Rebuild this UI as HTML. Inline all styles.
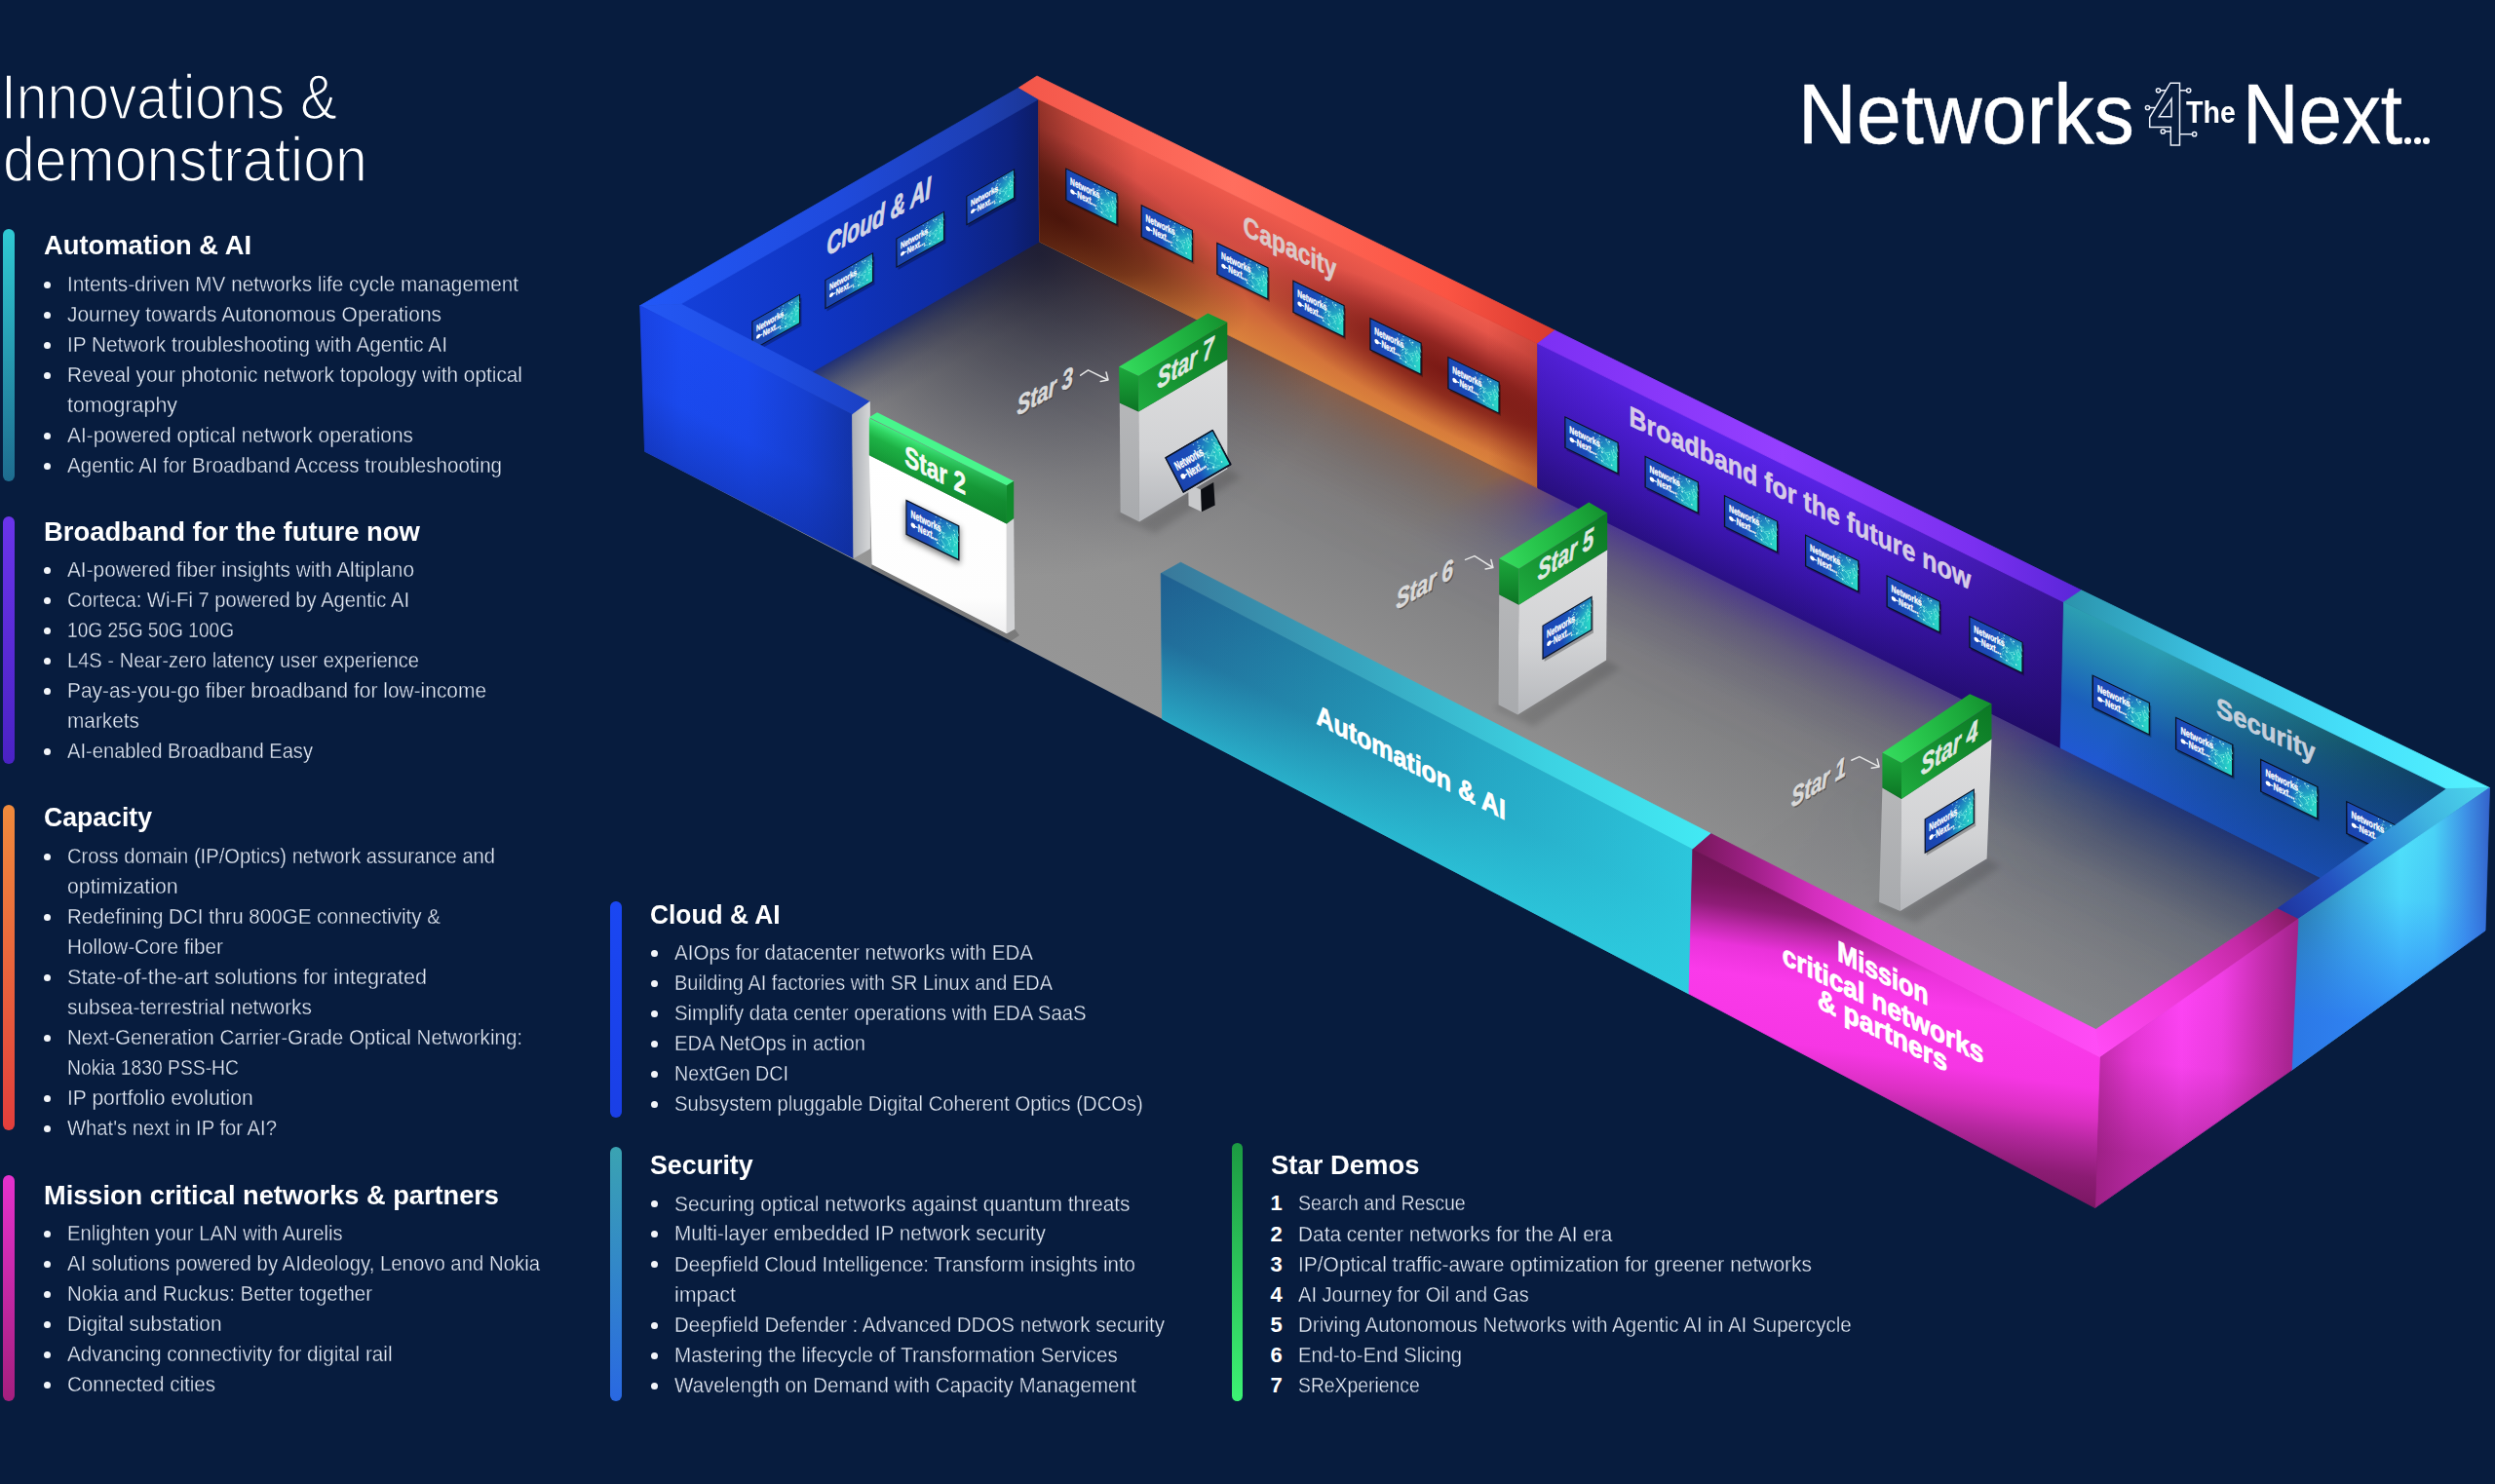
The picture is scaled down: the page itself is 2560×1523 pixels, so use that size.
<!DOCTYPE html>
<html lang="en"><head><meta charset="utf-8"><title>Innovations &amp; demonstration</title>
<style>
html,body{margin:0;padding:0}
body{width:2560px;height:1523px;overflow:hidden;background:#071c3e;position:relative;font-family:"Liberation Sans",sans-serif}
.t,.h,.n,.ttl,.x{position:absolute;white-space:nowrap;line-height:1;transform-origin:0 50%}
.t{font-size:22px;color:#e3e9f3;-webkit-text-stroke:0.35px #071c3e}
.n{font-size:22px;color:#fff;font-weight:bold}
.h{font-size:27.3px;color:#fff;font-weight:bold}
.ttl{font-size:64px;color:#fff;-webkit-text-stroke:1.6px #071c3e}
.b{position:absolute;width:7px;height:7px;border-radius:50%;background:#f2f5fa}
.bar{position:absolute;border-radius:6px}
#dia{position:absolute;left:0;top:0}
</style></head><body>
<svg id="dia" width="2560" height="1523" viewBox="0 0 2560 1523">
<defs>
<clipPath id="fclip"><polygon points="1066.6,248 2520,958 2152,1215 1192.6,738.1 661.6,463.3"/></clipPath>
<filter id="blur6" x="-20%" y="-20%" width="140%" height="140%"><feGaussianBlur stdDeviation="6"/></filter>
<filter id="blur3" x="-20%" y="-20%" width="140%" height="140%"><feGaussianBlur stdDeviation="3"/></filter>
<linearGradient id="g1" gradientUnits="userSpaceOnUse" x1="1400" y1="380" x2="1130" y2="900"><stop offset="0" stop-color="#5c5c61"/><stop offset="0.22" stop-color="#7e7e80"/><stop offset="0.5" stop-color="#929292"/><stop offset="1" stop-color="#9b9b9b"/></linearGradient>
<linearGradient id="g2" gradientUnits="userSpaceOnUse" x1="1700" y1="600" x2="2450" y2="960"><stop offset="0" stop-color="#7a8288" stop-opacity="0"/><stop offset="0.5" stop-color="#7a8088" stop-opacity="0.15"/><stop offset="1" stop-color="#66707c" stop-opacity="0.4"/></linearGradient>
<linearGradient id="g3" gradientUnits="userSpaceOnUse" x1="700" y1="458" x2="732" y2="513.8"><stop offset="0" stop-color="#10257e" stop-opacity="0.9"/><stop offset="0.3" stop-color="#1a2a6a" stop-opacity="0.5"/><stop offset="0.65" stop-color="#20285a" stop-opacity="0.15"/><stop offset="1" stop-color="#20285a" stop-opacity="0"/></linearGradient>
<linearGradient id="g4" gradientUnits="userSpaceOnUse" x1="1066.6" y1="248" x2="1725" y2="1409.9"><stop offset="0" stop-color="#3a1c18" stop-opacity="0.7"/><stop offset="0.1" stop-color="#5a3024" stop-opacity="0.6"/><stop offset="0.2" stop-color="#a85a30" stop-opacity="0.55"/><stop offset="0.33" stop-color="#b05c2c" stop-opacity="0.6"/><stop offset="0.375" stop-color="#3d19b4" stop-opacity="0.6"/><stop offset="0.7" stop-color="#38189e" stop-opacity="0.6"/><stop offset="0.75" stop-color="#1a3c9e" stop-opacity="0.95"/><stop offset="1" stop-color="#1a3c9e" stop-opacity="0.95"/></linearGradient>
<linearGradient id="g5" gradientUnits="userSpaceOnUse" x1="1066.6" y1="248" x2="999.7" y2="384.6"><stop offset="0" stop-color="#fff" stop-opacity="1"/><stop offset="0.1" stop-color="#fff" stop-opacity="0.7"/><stop offset="0.25" stop-color="#fff" stop-opacity="0.36"/><stop offset="0.45" stop-color="#fff" stop-opacity="0.13"/><stop offset="0.7" stop-color="#fff" stop-opacity="0.03"/><stop offset="1" stop-color="#fff" stop-opacity="0"/></linearGradient>
<mask id="fm" maskUnits="userSpaceOnUse" x="0" y="0" width="2560" height="1523"><polygon points="1026.6,223.4 2550.3,979.6 2390.3,1075.6 866.6,319.4" fill="url(#g5)"/></mask>
<linearGradient id="g6" gradientUnits="userSpaceOnUse" x1="1066.6" y1="248" x2="1725" y2="1409.9"><stop offset="0" stop-color="#1c2a5c" stop-opacity="0"/><stop offset="0.66" stop-color="#1c2a5c" stop-opacity="0"/><stop offset="0.8" stop-color="#1c2a5c" stop-opacity="0.62"/><stop offset="1" stop-color="#18264e" stop-opacity="0.7"/></linearGradient>
<linearGradient id="g7" gradientUnits="userSpaceOnUse" x1="1066.6" y1="248" x2="928.6" y2="530"><stop offset="0" stop-color="#fff" stop-opacity="0.9"/><stop offset="0.15" stop-color="#fff" stop-opacity="0.55"/><stop offset="0.35" stop-color="#fff" stop-opacity="0.2"/><stop offset="0.6" stop-color="#fff" stop-opacity="0.05"/><stop offset="1" stop-color="#fff" stop-opacity="0"/></linearGradient>
<mask id="fm2" maskUnits="userSpaceOnUse" x="0" y="0" width="2560" height="1523"><polygon points="1026.6,223.4 2550.3,979.6 2220.3,1172.6 696.6,416.4" fill="url(#g7)"/></mask>
<radialGradient id="g8" gradientUnits="userSpaceOnUse" cx="1068" cy="262" r="330"><stop offset="0" stop-color="#1c1d32" stop-opacity="0.85"/><stop offset="0.35" stop-color="#26273a" stop-opacity="0.5"/><stop offset="0.7" stop-color="#303040" stop-opacity="0.18"/><stop offset="1" stop-color="#303040" stop-opacity="0"/></radialGradient>
<linearGradient id="g9" gradientUnits="userSpaceOnUse" x1="698" y1="0" x2="1066" y2="0"><stop offset="0" stop-color="#1440da"/><stop offset="0.4" stop-color="#0f35c2"/><stop offset="0.72" stop-color="#0e2ca4"/><stop offset="0.92" stop-color="#0d2280"/><stop offset="1" stop-color="#0c1c66"/></linearGradient>
<linearGradient id="g10" gradientUnits="userSpaceOnUse" x1="656" y1="0" x2="1066" y2="0"><stop offset="0" stop-color="#2258f8"/><stop offset="0.5" stop-color="#1f4adc"/><stop offset="0.85" stop-color="#1d3fb4"/><stop offset="1" stop-color="#1b3694"/></linearGradient>
<linearGradient id="g11" gradientUnits="userSpaceOnUse" x1="1065.6" y1="101.8" x2="1007.5" y2="220.4"><stop offset="0" stop-color="#ee5a4c"/><stop offset="0.3" stop-color="#d44c44"/><stop offset="0.6" stop-color="#c8543a"/><stop offset="0.85" stop-color="#d4743a"/><stop offset="1" stop-color="#da823c"/></linearGradient>
<linearGradient id="g12" gradientUnits="userSpaceOnUse" x1="1065" y1="0" x2="1578" y2="0"><stop offset="0" stop-color="#3a0c06" stop-opacity="0.5"/><stop offset="0.08" stop-color="#3a0c06" stop-opacity="0.25"/><stop offset="0.2" stop-color="#3a0c06" stop-opacity="0"/><stop offset="0.9" stop-color="#5a0808" stop-opacity="0"/><stop offset="1" stop-color="#5a0808" stop-opacity="0.25"/></linearGradient>
<radialGradient id="g13" gradientUnits="userSpaceOnUse" cx="0" cy="0" r="1" gradientTransform="matrix(190 93 0 85 1090 226)"><stop offset="0" stop-color="#3c0c06" stop-opacity="0.85"/><stop offset="0.45" stop-color="#3c0c06" stop-opacity="0.6"/><stop offset="0.8" stop-color="#3c0c06" stop-opacity="0.18"/><stop offset="1" stop-color="#3c0c06" stop-opacity="0"/></radialGradient>
<radialGradient id="g14" gradientUnits="userSpaceOnUse" cx="0" cy="0" r="1" gradientTransform="matrix(230 112.6 0 62 1490 385)"><stop offset="0" stop-color="#640a0a" stop-opacity="0.8"/><stop offset="0.4" stop-color="#640a0a" stop-opacity="0.6"/><stop offset="0.75" stop-color="#640a0a" stop-opacity="0.2"/><stop offset="1" stop-color="#640a0a" stop-opacity="0"/></radialGradient>
<linearGradient id="g15" gradientUnits="userSpaceOnUse" x1="1045" y1="0" x2="1595" y2="0"><stop offset="0" stop-color="#f4574a"/><stop offset="0.4" stop-color="#ff6e5e"/><stop offset="0.8" stop-color="#fb5443"/><stop offset="1" stop-color="#d83a30"/></linearGradient>
<linearGradient id="g16" gradientUnits="userSpaceOnUse" x1="1577.7" y1="352.6" x2="1519.1" y2="471.8"><stop offset="0" stop-color="#5a24ea"/><stop offset="0.35" stop-color="#4a1cd0"/><stop offset="0.7" stop-color="#3a15ac"/><stop offset="1" stop-color="#2a1086"/></linearGradient>
<linearGradient id="g17" gradientUnits="userSpaceOnUse" x1="1578" y1="0" x2="2118" y2="0"><stop offset="0" stop-color="#1a0850" stop-opacity="0.15"/><stop offset="0.3" stop-color="#1a0850" stop-opacity="0"/><stop offset="0.6" stop-color="#1a0850" stop-opacity="0.05"/><stop offset="1" stop-color="#160648" stop-opacity="0.55"/></linearGradient>
<linearGradient id="g18" gradientUnits="userSpaceOnUse" x1="1578" y1="0" x2="2136" y2="0"><stop offset="0" stop-color="#7c30f4"/><stop offset="0.45" stop-color="#953fff"/><stop offset="0.8" stop-color="#7a30f0"/><stop offset="1" stop-color="#5a26d8"/></linearGradient>
<linearGradient id="g19" gradientUnits="userSpaceOnUse" x1="2117.6" y1="618" x2="2058.5" y2="739.2"><stop offset="0" stop-color="#2c9fb2"/><stop offset="0.3" stop-color="#2382b4"/><stop offset="0.62" stop-color="#1b5fbc"/><stop offset="1" stop-color="#2058d2"/></linearGradient>
<linearGradient id="g20" gradientUnits="userSpaceOnUse" x1="2230" y1="640" x2="2520" y2="800"><stop offset="0" stop-color="#082c44" stop-opacity="0"/><stop offset="0.4" stop-color="#082c44" stop-opacity="0.38"/><stop offset="0.75" stop-color="#07293e" stop-opacity="0.7"/><stop offset="1" stop-color="#06263a" stop-opacity="0.9"/></linearGradient>
<linearGradient id="g21" gradientUnits="userSpaceOnUse" x1="0" y1="760" x2="0" y2="960"><stop offset="0" stop-color="#1f5ad8" stop-opacity="0"/><stop offset="1" stop-color="#1f5ad8" stop-opacity="0.9"/></linearGradient>
<linearGradient id="g22" gradientUnits="userSpaceOnUse" x1="2118" y1="0" x2="2554" y2="0"><stop offset="0" stop-color="#2b93ac"/><stop offset="0.35" stop-color="#3cc4e4"/><stop offset="0.7" stop-color="#46e2fb"/><stop offset="1" stop-color="#54f2ff"/></linearGradient>
<linearGradient id="scrg" x1="0" y1="0" x2="1" y2="0"><stop offset="0" stop-color="#1a43ae"/><stop offset="0.4" stop-color="#1b4bb8"/><stop offset="0.55" stop-color="#1b70c0"/><stop offset="0.72" stop-color="#20a8c4"/><stop offset="1" stop-color="#2adcc8"/></linearGradient>
<linearGradient id="scrg2" x1="0.45" y1="0" x2="0.8" y2="1"><stop offset="0" stop-color="#1b4bb8" stop-opacity="0.8"/><stop offset="0.6" stop-color="#1b4bb8" stop-opacity="0"/></linearGradient>
<g id="scr"><rect x="-0.7" y="-0.7" width="53.4" height="33.4" fill="#0a1226"/><rect x="0.6" y="0.6" width="50.8" height="30.8" fill="url(#scrg)"/><rect x="0.6" y="0.6" width="50.8" height="30.8" fill="url(#scrg2)"/><path d="M36.8 6.9l-1.3 1.8M47.2 5.4l0.8 2.1M40.7 4.0l2.9 2.9M35.1 17.3l3.8 -4.8M32.6 8.8l-2.9 4.0M31.3 18.2l4.3 -5.4M31.0 25.3l3.6 2.0M41.4 17.8l2.2 5.7M33.8 18.1l-1.7 2.4M32.0 21.5l0.8 2.1M34.3 20.7l4.1 4.2M39.8 27.0l3.1 1.7M46.7 21.2l2.0 -1.4M36.3 15.9l5.0 2.7M36.0 28.5l2.8 -3.6M33.5 11.9l2.9 2.9M50.2 5.0l1.8 4.5M48.4 11.2l-2.2 3.0M40.4 23.7l3.9 -4.9M49.8 15.3l-1.4 1.9M45.4 11.0l2.5 6.5M47.3 10.4l4.5 4.6M37.3 27.5l2.5 1.4M32.5 4.5l2.3 1.3M35.2 13.2l1.7 1.7M39.4 17.3l5.0 -3.4" stroke="#7ff5e6" stroke-width="0.7" opacity="0.75" fill="none"/><g fill="#c9fff6" opacity="0.9"><circle cx="47.9" cy="9.8" r="0.6"/><circle cx="36.3" cy="26.8" r="0.9"/><circle cx="31.5" cy="6.9" r="0.5"/><circle cx="33.4" cy="15.6" r="0.7"/><circle cx="34.0" cy="2.1" r="0.6"/><circle cx="36.5" cy="17.9" r="0.9"/><circle cx="43.9" cy="16.4" r="0.7"/><circle cx="43.6" cy="3.5" r="0.8"/><circle cx="45.9" cy="26.5" r="0.8"/><circle cx="37.0" cy="13.2" r="0.5"/><circle cx="42.6" cy="3.7" r="0.4"/><circle cx="32.8" cy="6.5" r="0.6"/><circle cx="29.2" cy="2.0" r="0.5"/><circle cx="30.3" cy="12.2" r="0.4"/><circle cx="48.1" cy="19.2" r="0.5"/><circle cx="33.8" cy="11.7" r="0.6"/><circle cx="30.8" cy="25.8" r="0.9"/><circle cx="38.7" cy="15.5" r="0.4"/><circle cx="30.4" cy="11.6" r="0.5"/><circle cx="47.1" cy="6.5" r="0.4"/><circle cx="49.9" cy="16.8" r="0.5"/><circle cx="40.5" cy="2.8" r="0.7"/></g><text x="4.2" y="14" font-size="10.2" font-weight="bold" fill="#fff" font-family="Liberation Sans,sans-serif" textLength="30" lengthAdjust="spacingAndGlyphs" stroke="#fff" stroke-width="0.35">Networks</text><circle cx="6.6" cy="20.6" r="2.3" fill="#fff"/><rect x="8.2" y="20" width="3" height="1.3" fill="#fff"/><text x="11.4" y="24" font-size="10.2" font-weight="bold" fill="#fff" font-family="Liberation Sans,sans-serif" textLength="19.5" lengthAdjust="spacingAndGlyphs" stroke="#fff" stroke-width="0.35">Next...</text></g>
<linearGradient id="g23" gradientUnits="userSpaceOnUse" x1="2540" y1="812" x2="2345" y2="940"><stop offset="0" stop-color="#4ad0ea"/><stop offset="0.25" stop-color="#3fb4e0"/><stop offset="0.5" stop-color="#2e86d6"/><stop offset="0.75" stop-color="#2452c0"/><stop offset="1" stop-color="#1f36a0"/></linearGradient>
<linearGradient id="g24" gradientUnits="userSpaceOnUse" x1="2348" y1="938" x2="2152" y2="1072"><stop offset="0" stop-color="#8a1c68"/><stop offset="0.25" stop-color="#c42aa6"/><stop offset="0.6" stop-color="#ee3ad8"/><stop offset="1" stop-color="#ff4af4"/></linearGradient>
<linearGradient id="g25" gradientUnits="userSpaceOnUse" x1="2352" y1="0" x2="2554" y2="0"><stop offset="0" stop-color="#287a92"/><stop offset="0.12" stop-color="#2f8eb0"/><stop offset="0.3" stop-color="#3fb4da"/><stop offset="0.55" stop-color="#50e2fa"/><stop offset="0.72" stop-color="#4ad2f6"/><stop offset="0.88" stop-color="#3e92e6"/><stop offset="1" stop-color="#3464cc"/></linearGradient>
<linearGradient id="g26" gradientUnits="userSpaceOnUse" x1="2460" y1="850" x2="2440" y2="1050"><stop offset="0" stop-color="#2f80ff" stop-opacity="0"/><stop offset="0.35" stop-color="#2f80ff" stop-opacity="0.12"/><stop offset="0.7" stop-color="#2f80fa" stop-opacity="0.55"/><stop offset="1" stop-color="#2c78f4" stop-opacity="0.85"/></linearGradient>
<linearGradient id="g27" gradientUnits="userSpaceOnUse" x1="2152" y1="0" x2="2358" y2="0"><stop offset="0" stop-color="#c22cac"/><stop offset="0.18" stop-color="#ea38da"/><stop offset="0.42" stop-color="#ff44f6"/><stop offset="0.62" stop-color="#f03ee4"/><stop offset="0.82" stop-color="#c62eb0"/><stop offset="1" stop-color="#a2228a"/></linearGradient>
<linearGradient id="g28" gradientUnits="userSpaceOnUse" x1="2260" y1="1000" x2="2240" y2="1190"><stop offset="0" stop-color="#7a1560" stop-opacity="0"/><stop offset="0.5" stop-color="#7a1560" stop-opacity="0.06"/><stop offset="1" stop-color="#7a1560" stop-opacity="0.5"/></linearGradient>
<linearGradient id="g29" gradientUnits="userSpaceOnUse" x1="0" y1="413.5" x2="0" y2="525.8"><stop offset="0" stop-color="#b6b7b9"/><stop offset="1" stop-color="#a9abae"/></linearGradient>
<linearGradient id="g30" gradientUnits="userSpaceOnUse" x1="0" y1="369" x2="0" y2="535.5"><stop offset="0" stop-color="#dededf"/><stop offset="0.55" stop-color="#d2d3d5"/><stop offset="1" stop-color="#b6b8bc"/></linearGradient>
<linearGradient id="g31" gradientUnits="userSpaceOnUse" x1="1148" y1="376.6" x2="1259.3" y2="330.7"><stop offset="0" stop-color="#35dc5e"/><stop offset="0.35" stop-color="#27c44b"/><stop offset="0.75" stop-color="#1ba73a"/><stop offset="1" stop-color="#14902f"/></linearGradient>
<linearGradient id="g32" gradientUnits="userSpaceOnUse" x1="0" y1="376.6" x2="0" y2="422.4"><stop offset="0" stop-color="#1ca83c"/><stop offset="0.5" stop-color="#148f30"/><stop offset="1" stop-color="#0c7424"/></linearGradient>
<linearGradient id="g33" gradientUnits="userSpaceOnUse" x1="1168.2" y1="422.4" x2="1259.3" y2="330.7"><stop offset="0" stop-color="#1fae40"/><stop offset="0.4" stop-color="#169332"/><stop offset="1" stop-color="#0b7824"/></linearGradient>
<linearGradient id="g34" gradientUnits="userSpaceOnUse" x1="0" y1="610.3" x2="0" y2="723.3"><stop offset="0" stop-color="#b6b7b9"/><stop offset="1" stop-color="#a9abae"/></linearGradient>
<linearGradient id="g35" gradientUnits="userSpaceOnUse" x1="0" y1="564.2" x2="0" y2="733.5"><stop offset="0" stop-color="#dededf"/><stop offset="0.55" stop-color="#d2d3d5"/><stop offset="1" stop-color="#b6b8bc"/></linearGradient>
<linearGradient id="g36" gradientUnits="userSpaceOnUse" x1="1538.2" y1="573.3" x2="1649.2" y2="526.4"><stop offset="0" stop-color="#35dc5e"/><stop offset="0.35" stop-color="#27c44b"/><stop offset="0.75" stop-color="#1ba73a"/><stop offset="1" stop-color="#14902f"/></linearGradient>
<linearGradient id="g37" gradientUnits="userSpaceOnUse" x1="0" y1="573.3" x2="0" y2="620.8"><stop offset="0" stop-color="#1ca83c"/><stop offset="0.5" stop-color="#148f30"/><stop offset="1" stop-color="#0c7424"/></linearGradient>
<linearGradient id="g38" gradientUnits="userSpaceOnUse" x1="1558.4" y1="620.8" x2="1649.2" y2="526.4"><stop offset="0" stop-color="#1fae40"/><stop offset="0.4" stop-color="#169332"/><stop offset="1" stop-color="#0b7824"/></linearGradient>
<linearGradient id="g39" gradientUnits="userSpaceOnUse" x1="0" y1="808.5" x2="0" y2="925.7"><stop offset="0" stop-color="#b6b7b9"/><stop offset="1" stop-color="#a9abae"/></linearGradient>
<linearGradient id="g40" gradientUnits="userSpaceOnUse" x1="0" y1="758.6" x2="0" y2="935.1"><stop offset="0" stop-color="#dededf"/><stop offset="0.55" stop-color="#d2d3d5"/><stop offset="1" stop-color="#b6b8bc"/></linearGradient>
<linearGradient id="g41" gradientUnits="userSpaceOnUse" x1="1931.4" y1="772.6" x2="2043.5" y2="722.2"><stop offset="0" stop-color="#35dc5e"/><stop offset="0.35" stop-color="#27c44b"/><stop offset="0.75" stop-color="#1ba73a"/><stop offset="1" stop-color="#14902f"/></linearGradient>
<linearGradient id="g42" gradientUnits="userSpaceOnUse" x1="0" y1="772.6" x2="0" y2="820"><stop offset="0" stop-color="#1ca83c"/><stop offset="0.5" stop-color="#148f30"/><stop offset="1" stop-color="#0c7424"/></linearGradient>
<linearGradient id="g43" gradientUnits="userSpaceOnUse" x1="1951" y1="820" x2="2043.5" y2="722.2"><stop offset="0" stop-color="#1fae40"/><stop offset="0.4" stop-color="#169332"/><stop offset="1" stop-color="#0b7824"/></linearGradient>
<linearGradient id="g44" gradientUnits="userSpaceOnUse" x1="1191" y1="0" x2="1756" y2="0"><stop offset="0" stop-color="#39789a"/><stop offset="0.35" stop-color="#37a4be"/><stop offset="0.7" stop-color="#3cd2e2"/><stop offset="1" stop-color="#42eaf4"/></linearGradient>
<linearGradient id="g45" gradientUnits="userSpaceOnUse" x1="1191" y1="0" x2="1737" y2="0"><stop offset="0" stop-color="#1f5f90"/><stop offset="0.3" stop-color="#2183a8"/><stop offset="0.6" stop-color="#25a4c2"/><stop offset="1" stop-color="#2cc6dc"/></linearGradient>
<linearGradient id="g46" gradientUnits="userSpaceOnUse" x1="1191.2" y1="588.5" x2="1130.3" y2="705.9"><stop offset="0" stop-color="#2ed0e2" stop-opacity="0"/><stop offset="0.45" stop-color="#2ed0e2" stop-opacity="0.12"/><stop offset="1" stop-color="#2ed0e2" stop-opacity="0.62"/></linearGradient>
<linearGradient id="g47" gradientUnits="userSpaceOnUse" x1="1560" y1="0" x2="1737" y2="0"><stop offset="0" stop-color="#1b86ae" stop-opacity="0"/><stop offset="1" stop-color="#1b86ae" stop-opacity="0.0"/></linearGradient>
<linearGradient id="g48" gradientUnits="userSpaceOnUse" x1="1737" y1="0" x2="2154" y2="0"><stop offset="0" stop-color="#76175a"/><stop offset="0.15" stop-color="#a02088"/><stop offset="0.3" stop-color="#d42fbe"/><stop offset="0.45" stop-color="#ee38dc"/><stop offset="1" stop-color="#ff4cf6"/></linearGradient>
<linearGradient id="g49" gradientUnits="userSpaceOnUse" x1="1736.8" y1="871.8" x2="1692" y2="1171.1"><stop offset="0" stop-color="#6a1352"/><stop offset="0.1" stop-color="#78165e"/><stop offset="0.17" stop-color="#8e1c76"/><stop offset="0.24" stop-color="#c22aae"/><stop offset="0.3" stop-color="#ea32da"/><stop offset="0.4" stop-color="#fa3aea"/><stop offset="0.6" stop-color="#f636e4"/><stop offset="0.7" stop-color="#dc30c4"/><stop offset="0.8" stop-color="#b0269a"/><stop offset="0.9" stop-color="#8c1c74"/><stop offset="1" stop-color="#7a1762"/></linearGradient>
<linearGradient id="g50" gradientUnits="userSpaceOnUse" x1="1733" y1="0" x2="2154" y2="0"><stop offset="0" stop-color="#ff40f0" stop-opacity="0.0"/><stop offset="0.5" stop-color="#ff40f0" stop-opacity="0.0"/><stop offset="1" stop-color="#c02aa8" stop-opacity="0.0"/></linearGradient>
<linearGradient id="g51" gradientUnits="userSpaceOnUse" x1="656" y1="0" x2="892" y2="0"><stop offset="0" stop-color="#2458f4"/><stop offset="0.6" stop-color="#1f4de2"/><stop offset="1" stop-color="#1b40c2"/></linearGradient>
<linearGradient id="g52" gradientUnits="userSpaceOnUse" x1="656" y1="0" x2="876" y2="0"><stop offset="0" stop-color="#1943e2"/><stop offset="0.2" stop-color="#1b4bf2"/><stop offset="0.5" stop-color="#1a49ee"/><stop offset="0.78" stop-color="#163fd0"/><stop offset="1" stop-color="#1233a8"/></linearGradient>
<linearGradient id="g53" gradientUnits="userSpaceOnUse" x1="656.7" y1="313.7" x2="596.5" y2="430.8"><stop offset="0" stop-color="#0c2890" stop-opacity="0"/><stop offset="0.55" stop-color="#0c2890" stop-opacity="0.05"/><stop offset="1" stop-color="#0c2890" stop-opacity="0.42"/></linearGradient>
<linearGradient id="g54" gradientUnits="userSpaceOnUse" x1="874" y1="0" x2="893" y2="0"><stop offset="0" stop-color="#aaaeb3"/><stop offset="1" stop-color="#d6d7d9"/></linearGradient>
<linearGradient id="g55" gradientUnits="userSpaceOnUse" x1="0" y1="470" x2="0" y2="650"><stop offset="0" stop-color="#ffffff"/><stop offset="0.8" stop-color="#fdfdfd"/><stop offset="1" stop-color="#f0f0f1"/></linearGradient>
<linearGradient id="g56" gradientUnits="userSpaceOnUse" x1="891.8" y1="429.1" x2="876.5" y2="460.2"><stop offset="0" stop-color="#44f284"/><stop offset="0.2" stop-color="#30d462"/><stop offset="0.45" stop-color="#1eb346"/><stop offset="1" stop-color="#149736"/></linearGradient>
<linearGradient id="g57" gradientUnits="userSpaceOnUse" x1="892" y1="0" x2="1033" y2="0"><stop offset="0" stop-color="#0a7423" stop-opacity="0"/><stop offset="0.35" stop-color="#0a7423" stop-opacity="0.08"/><stop offset="1" stop-color="#0a7423" stop-opacity="0.62"/></linearGradient>
</defs>
<polygon points="1066.6,248 2520,958 2152,1215 1192.6,738.1 661.6,463.3" fill="url(#g1)"/>
<g clip-path="url(#fclip)">
<polygon points="1066.6,248 2520,958 2152,1215 1192.6,738.1 661.6,463.3" fill="url(#g2)"/>
<polygon points="630.6,492.8 1136,203.2 1206,242.2 700.6,531.8" fill="url(#g3)"/>
<polygon points="1026.6,223.4 2550.3,979.6 2390.3,1075.6 866.6,319.4" fill="url(#g4)" mask="url(#fm)"/>
<polygon points="1026.6,223.4 2550.3,979.6 2220.3,1172.6 696.6,416.4" fill="url(#g6)" mask="url(#fm2)"/>
<polygon points="1066.6,248 2520,958 2152,1215 1192.6,738.1 661.6,463.3" fill="url(#g8)"/>
</g>
<polygon points="698.5,312 1065.6,101.8 1066.6,248 698.5,459" fill="url(#g9)" stroke="url(#g9)" stroke-width="0.8" stroke-linejoin="round"/>
<polygon points="656.7,313.7 1045.4,89.9 1065.6,101.8 698.5,312" fill="url(#g10)" stroke="url(#g10)" stroke-width="0.8" stroke-linejoin="round"/>
<polygon points="1065.6,101.8 1577.7,352.6 1577.7,500.8 1066.6,248" fill="url(#g11)" stroke="url(#g11)" stroke-width="0.8" stroke-linejoin="round"/>
<polygon points="1065.6,101.8 1577.7,352.6 1577.7,500.8 1066.6,248" fill="url(#g12)" stroke="url(#g12)" stroke-width="0.8" stroke-linejoin="round"/>
<polygon points="1065.6,101.8 1577.7,352.6 1577.7,500.8 1066.6,248" fill="url(#g13)"/>
<polygon points="1065.6,101.8 1577.7,352.6 1577.7,500.8 1066.6,248" fill="url(#g14)"/>
<polygon points="1064,78 1595.3,339.1 1577.7,352.6 1065.6,101.8 1045.4,89.9" fill="url(#g15)" stroke="url(#g15)" stroke-width="0.8" stroke-linejoin="round"/>
<polygon points="1577.7,352.6 2117.6,618 2114.1,767.5 1577.7,500.8" fill="url(#g16)" stroke="url(#g16)" stroke-width="0.8" stroke-linejoin="round"/>
<polygon points="1577.7,352.6 2117.6,618 2114.1,767.5 1577.7,500.8" fill="url(#g17)" stroke="url(#g17)" stroke-width="0.8" stroke-linejoin="round"/>
<polygon points="1595.3,339.1 2135.7,605.8 2117.6,618 1577.7,352.6" fill="url(#g18)" stroke="url(#g18)" stroke-width="0.8" stroke-linejoin="round"/>
<polygon points="2117.6,618 2510.3,809.6 2510.3,965 2114.1,767.5" fill="url(#g19)" stroke="url(#g19)" stroke-width="0.8" stroke-linejoin="round"/>
<polygon points="2117.6,618 2510.3,809.6 2510.3,965 2114.1,767.5" fill="url(#g20)" stroke="url(#g20)" stroke-width="0.8" stroke-linejoin="round"/>
<polygon points="2117.6,618 2510.3,809.6 2510.3,965 2114.1,767.5" fill="url(#g21)" stroke="url(#g21)" stroke-width="0.8" stroke-linejoin="round"/>
<polygon points="2135.7,605.8 2554.5,808.5 2510.3,809.6 2117.6,618" fill="url(#g22)" stroke="url(#g22)" stroke-width="0.8" stroke-linejoin="round"/>
<polygon points="773.5,331.6 822.5,305.5 822.5,334.5 773.5,362" fill="#000" opacity="0.28"/>
<use href="#scr" transform="matrix(0.9327,-0.5288,0,0.9062,772,330)"/>
<polygon points="848.5,289.1 897.5,263 897.5,292 848.5,319.5" fill="#000" opacity="0.28"/>
<use href="#scr" transform="matrix(0.9327,-0.5288,0,0.9062,847,287.5)"/>
<polygon points="921.5,246.6 970.5,220.5 970.5,249.5 921.5,277" fill="#000" opacity="0.28"/>
<use href="#scr" transform="matrix(0.9327,-0.5288,0,0.9062,920,245)"/>
<polygon points="993.5,203.1 1042.5,177 1042.5,206 993.5,233.5" fill="#000" opacity="0.28"/>
<use href="#scr" transform="matrix(0.9327,-0.5288,0,0.9062,992,201.5)"/>
<polygon points="1095.4,176.4 1147.9,201.6 1147.9,233.6 1095.4,208.2" fill="#000" opacity="0.28"/>
<use href="#scr" transform="matrix(1.0000,0.4880,0,1.0000,1093.9,173.2)"/>
<polygon points="1172.8,214.1 1225.3,239.3 1225.3,271.3 1172.8,245.9" fill="#000" opacity="0.28"/>
<use href="#scr" transform="matrix(1.0000,0.4880,0,1.0000,1171.3,210.9)"/>
<polygon points="1250.4,252.7 1302.9,277.9 1302.9,309.9 1250.4,284.5" fill="#000" opacity="0.28"/>
<use href="#scr" transform="matrix(1.0000,0.4880,0,1.0000,1248.9,249.5)"/>
<polygon points="1328.5,291.5 1381,316.7 1381,348.7 1328.5,323.3" fill="#000" opacity="0.28"/>
<use href="#scr" transform="matrix(1.0000,0.4880,0,1.0000,1327,288.3)"/>
<polygon points="1407.5,330 1460,355.2 1460,387.2 1407.5,361.8" fill="#000" opacity="0.28"/>
<use href="#scr" transform="matrix(1.0000,0.4880,0,1.0000,1406,326.8)"/>
<polygon points="1487.5,369.9 1540,395.1 1540,427.1 1487.5,401.7" fill="#000" opacity="0.28"/>
<use href="#scr" transform="matrix(1.0000,0.4880,0,1.0000,1486,366.7)"/>
<polygon points="1607.5,431.2 1662,457.4 1662,488.9 1607.5,462.5" fill="#000" opacity="0.28"/>
<use href="#scr" transform="matrix(1.0385,0.5068,0,0.9844,1606,428)"/>
<polygon points="1689.7,471.7 1744.2,497.9 1744.2,529.4 1689.7,503" fill="#000" opacity="0.28"/>
<use href="#scr" transform="matrix(1.0385,0.5068,0,0.9844,1688.2,468.5)"/>
<polygon points="1771.1,512.1 1825.6,538.3 1825.6,569.8 1771.1,543.4" fill="#000" opacity="0.28"/>
<use href="#scr" transform="matrix(1.0385,0.5068,0,0.9844,1769.6,508.9)"/>
<polygon points="1854.2,552.5 1908.7,578.7 1908.7,610.2 1854.2,583.8" fill="#000" opacity="0.28"/>
<use href="#scr" transform="matrix(1.0385,0.5068,0,0.9844,1852.7,549.3)"/>
<polygon points="1937.7,594.3 1992.2,620.5 1992.2,652 1937.7,625.6" fill="#000" opacity="0.28"/>
<use href="#scr" transform="matrix(1.0385,0.5068,0,0.9844,1936.2,591.1)"/>
<polygon points="2022.5,636.1 2077,662.3 2077,693.8 2022.5,667.4" fill="#000" opacity="0.28"/>
<use href="#scr" transform="matrix(1.0385,0.5068,0,0.9844,2021,632.9)"/>
<polygon points="2148.8,696.6 2207.3,724.4 2207.3,756.9 2148.8,728.9" fill="#000" opacity="0.28"/>
<use href="#scr" transform="matrix(1.1154,0.5376,0,1.0156,2147.3,693.4)"/>
<polygon points="2234.2,739.7 2292.7,767.5 2292.7,800 2234.2,772" fill="#000" opacity="0.28"/>
<use href="#scr" transform="matrix(1.1154,0.5376,0,1.0156,2232.7,736.5)"/>
<polygon points="2321.3,782.9 2379.8,810.7 2379.8,843.2 2321.3,815.2" fill="#000" opacity="0.28"/>
<use href="#scr" transform="matrix(1.1154,0.5376,0,1.0156,2319.8,779.7)"/>
<polygon points="2409.4,826 2467.9,853.8 2467.9,886.3 2409.4,858.3" fill="#000" opacity="0.28"/>
<use href="#scr" transform="matrix(1.1154,0.5376,0,1.0156,2407.9,822.8)"/>
<text transform="matrix(0.6804,-0.3864,0,1,848.2,263)" font-size="31" font-weight="bold" font-style="italic" fill="#d2d5e8" stroke="#d2d5e8" stroke-width="0.9">Cloud &amp; AI</text>
<text transform="matrix(0.7908,0.3780,0,1,1275.6,240.8)" font-size="29" font-weight="bold" fill="#dcc8c8" stroke="#dcc8c8" stroke-width="0.6">Capacity</text>
<text transform="matrix(0.8602,0.4159,0,1,1671.6,436.2)" font-size="29" font-weight="bold" fill="#d6cbe8" stroke="#d6cbe8" stroke-width="0.6">Broadband for the future now</text>
<text transform="matrix(0.9195,0.4321,0,1,2274,734.5)" font-size="28" font-weight="bold" fill="#c4cfdc" stroke="#c4cfdc" stroke-width="0.6">Security</text>
<polygon points="2510.3,809.6 2554.5,808.5 2358,943.3 2336.5,932.6" fill="url(#g23)" stroke="url(#g23)" stroke-width="0.8" stroke-linejoin="round"/>
<polygon points="2336.5,932.6 2358,943.3 2154.4,1085.5 2150.5,1056.5" fill="url(#g24)" stroke="url(#g24)" stroke-width="0.8" stroke-linejoin="round"/>
<polygon points="2554.5,808.5 2550,955 2351.3,1098.3 2358,943.3" fill="url(#g25)" stroke="url(#g25)" stroke-width="0.8" stroke-linejoin="round"/>
<polygon points="2554.5,808.5 2550,955 2351.3,1098.3 2358,943.3" fill="url(#g26)" stroke="url(#g26)" stroke-width="0.8" stroke-linejoin="round"/>
<polygon points="2358,943.3 2351.3,1098.3 2149.5,1239.5 2154.4,1085.5" fill="url(#g27)" stroke="url(#g27)" stroke-width="0.8" stroke-linejoin="round"/>
<polygon points="2358,943.3 2351.3,1098.3 2149.5,1239.5 2154.4,1085.5" fill="url(#g28)" stroke="url(#g28)" stroke-width="0.8" stroke-linejoin="round"/>
<polygon points="1149.6,525.8 1169,535.5 1259.3,481.3 1273.3,489.3 1185,547.5 1145.6,529.8" fill="#000" opacity="0.13" filter="url(#blur3)"/>
<polygon points="1148.8,413.5 1168.2,422.4 1169,535.5 1149.6,525.8" fill="url(#g29)"/>
<polygon points="1168.2,422.4 1259.3,369 1259.3,481.3 1169,535.5" fill="url(#g30)"/>
<polygon points="1148,376.6 1239.4,321.6 1259.3,330.7 1168.2,386" fill="url(#g31)"/>
<polygon points="1148,376.6 1168.2,386 1168.2,422.4 1148.8,413.5" fill="url(#g32)"/>
<polygon points="1168.2,386 1259.3,330.7 1259.3,369 1168.2,422.4" fill="url(#g33)"/>
<text transform="matrix(0.7196,-0.4318,0,1,1187.6,399.7)" font-size="29" font-weight="bold" font-style="italic" fill="#dfe9e0" stroke="#dfe9e0" stroke-width="0.6">Star 7</text>
<polygon points="1219.2,497 1232.1,502.5 1232.9,525.2 1219.6,519" fill="#c9cacc"/>
<polygon points="1232.1,502.5 1245.2,495 1246.7,518.4 1232.9,525.2" fill="#0b0d12"/>
<polygon points="1196.2,470 1244.2,441.8 1262.8,476.5 1214.3,504.8" fill="#070b18" stroke="#070b18" stroke-width="1.6" stroke-linejoin="round"/>
<use href="#scr" transform="matrix(0.9231,-0.5423,0.5656,1.0875,1196.2,470)"/>
<polygon points="1537.6,723.3 1557.3,733.5 1648.1,677.5 1662.1,685.5 1573.3,745.5 1533.6,727.3" fill="#000" opacity="0.13" filter="url(#blur3)"/>
<polygon points="1538.2,610.3 1558.4,620.8 1557.3,733.5 1537.6,723.3" fill="url(#g34)"/>
<polygon points="1558.4,620.8 1649.2,564.2 1648.1,677.5 1557.3,733.5" fill="url(#g35)"/>
<polygon points="1538.2,573.3 1630.3,515.6 1649.2,526.4 1558.4,583.7" fill="url(#g36)"/>
<polygon points="1538.2,573.3 1558.4,583.7 1558.4,620.8 1538.2,610.3" fill="url(#g37)"/>
<polygon points="1558.4,583.7 1649.2,526.4 1649.2,564.2 1558.4,620.8" fill="url(#g38)"/>
<text transform="matrix(0.7134,-0.4473,0,1,1577.7,596.8)" font-size="29" font-weight="bold" font-style="italic" fill="#dfe9e0" stroke="#dfe9e0" stroke-width="0.6">Star 5</text>
<polygon points="1584.6,643.9 1635,615.7 1635,649.4 1584.6,679" fill="#000" opacity="0.28"/>
<use href="#scr" transform="matrix(0.9596,-0.5691,0,1.0531,1583.1,642.3)"/>
<polygon points="1928.1,925.7 1949.7,935.1 2038.6,881.2 2052.6,889.2 1965.7,947.1 1924.1,929.7" fill="#000" opacity="0.13" filter="url(#blur3)"/>
<polygon points="1931.4,808.5 1951,820 1949.7,935.1 1928.1,925.7" fill="url(#g39)"/>
<polygon points="1951,820 2043.5,758.6 2038.6,881.2 1949.7,935.1" fill="url(#g40)"/>
<polygon points="1931.4,772.6 2021.1,712.2 2043.5,722.2 1951,782.9" fill="url(#g41)"/>
<polygon points="1931.4,772.6 1951,782.9 1951,820 1931.4,808.5" fill="url(#g42)"/>
<polygon points="1951,782.9 2043.5,722.2 2043.5,758.6 1951,820" fill="url(#g43)"/>
<text transform="matrix(0.7258,-0.4761,0,1,1971,796.5)" font-size="29" font-weight="bold" font-style="italic" fill="#dfe9e0" stroke="#dfe9e0" stroke-width="0.6">Star 4</text>
<polygon points="1976.8,842.4 2027.2,813.4 2027.2,847.7 1976.8,878.1" fill="#000" opacity="0.28"/>
<use href="#scr" transform="matrix(0.9596,-0.5844,0,1.0719,1975.3,840.8)"/>
<text transform="matrix(0.7389,-0.4108,0,1,1044.7,428.6)" font-size="28" font-weight="bold" font-style="italic" fill="#3a3a3c" opacity="0.55">Star 3</text>
<text transform="matrix(0.7389,-0.4108,0,1,1043.5,427)" font-size="28" font-weight="bold" font-style="italic" fill="#dadada" stroke="#dadada" stroke-width="0.6">Star 3</text>
<path d="M1108.7 385.2L1116.5 379.8L1137 390M1129.2 391.4L1137 390L1135 382" fill="none" stroke="#e6e6e6" stroke-width="1.5" stroke-linecap="round" stroke-linejoin="round"/>
<text transform="matrix(0.7517,-0.4285,0,1,1433.7,627.6)" font-size="28" font-weight="bold" font-style="italic" fill="#3a3a3c" opacity="0.55">Star 6</text>
<text transform="matrix(0.7517,-0.4285,0,1,1432.5,626)" font-size="28" font-weight="bold" font-style="italic" fill="#dadada" stroke="#dadada" stroke-width="0.6">Star 6</text>
<path d="M1503.6 574.4L1513 570.6L1531.9 582.5M1524.1 583.9L1531.9 582.5L1529.9 574.5" fill="none" stroke="#e6e6e6" stroke-width="1.5" stroke-linecap="round" stroke-linejoin="round"/>
<text transform="matrix(0.7196,-0.4318,0,1,1839.2,830.8)" font-size="28" font-weight="bold" font-style="italic" fill="#3a3a3c" opacity="0.55">Star 1</text>
<text transform="matrix(0.7196,-0.4318,0,1,1838,829.2)" font-size="28" font-weight="bold" font-style="italic" fill="#dadada" stroke="#dadada" stroke-width="0.6">Star 1</text>
<path d="M1899.8 780.2L1907.9 776.6L1928.1 786.9M1920.3 788.3L1928.1 786.9L1926.1 778.9" fill="none" stroke="#e6e6e6" stroke-width="1.5" stroke-linecap="round" stroke-linejoin="round"/>
<polygon points="1191.2,588.5 1211.4,577.2 1755.6,855.6 1736.8,871.8" fill="url(#g44)" stroke="url(#g44)" stroke-width="0.8" stroke-linejoin="round"/>
<polygon points="1191.2,588.5 1736.8,871.8 1733,1020 1192.6,738.1" fill="url(#g45)" stroke="url(#g45)" stroke-width="0.8" stroke-linejoin="round"/>
<polygon points="1191.2,588.5 1736.8,871.8 1733,1020 1192.6,738.1" fill="url(#g46)" stroke="url(#g46)" stroke-width="0.8" stroke-linejoin="round"/>
<polygon points="1191.2,588.5 1736.8,871.8 1733,1020 1192.6,738.1" fill="url(#g47)"/>
<polygon points="1736.8,871.8 1755.6,855.6 2150.5,1056.5 2154.4,1085.5" fill="url(#g48)" stroke="url(#g48)" stroke-width="0.8" stroke-linejoin="round"/>
<polygon points="1736.8,871.8 2154.4,1085.5 2149.5,1239.5 1733,1020" fill="url(#g49)" stroke="url(#g49)" stroke-width="0.8" stroke-linejoin="round"/>
<polygon points="1736.8,871.8 2154.4,1085.5 2149.5,1239.5 1733,1020" fill="url(#g50)"/>
<polygon points="656.7,313.7 698.5,312 892.4,412.3 874.5,425.6" fill="url(#g51)" stroke="url(#g51)" stroke-width="0.8" stroke-linejoin="round"/>
<polygon points="656.7,313.7 874.5,425.6 875.8,572.7 661.6,463.3" fill="url(#g52)" stroke="url(#g52)" stroke-width="0.8" stroke-linejoin="round"/>
<polygon points="656.7,313.7 874.5,425.6 875.8,572.7 661.6,463.3" fill="url(#g53)" stroke="url(#g53)" stroke-width="0.8" stroke-linejoin="round"/>
<polygon points="874.5,425.6 892.4,412.3 892.6,563 875.8,572.7" fill="url(#g54)" stroke="url(#g54)" stroke-width="0.8" stroke-linejoin="round"/>
<polygon points="894.6,579.3 1032.9,650.2 1041.1,645.7 1046,652 1034,660 893,586" fill="#000" opacity="0.18"/>
<polygon points="891.8,467.3 1032.9,537.4 1032.9,650.2 894.6,579.3" fill="url(#g55)"/>
<polygon points="1032.9,537.4 1040.2,532 1041.1,645.7 1032.9,650.2" fill="#d2d3d5"/>
<polygon points="891.8,428.2 900,423.3 1040.2,493.7 1032.9,498.3" fill="#48f68c"/>
<polygon points="891.8,429.1 1032.9,498.3 1032.9,537.4 891.8,467.3" fill="url(#g56)"/>
<polygon points="891.8,429.1 1032.9,498.3 1032.9,537.4 891.8,467.3" fill="url(#g57)"/>
<polygon points="1032.9,498.3 1040.2,493.7 1040.2,532 1032.9,537.4" fill="#0f8a2c"/>
<polygon points="929,515 985,542 985,579 929,552" fill="#000" opacity="0.5" filter="url(#blur3)"/>
<use href="#scr" transform="matrix(1.0308,0.5051,0,1.0813,930.1,513.7)"/>
<text transform="matrix(0.7532,0.3691,0,1,928.2,477.3)" font-size="30" font-weight="bold" fill="#f4fbf5" stroke="#f4fbf5" stroke-width="0.6">Star 2</text>
<text transform="matrix(0.8728,0.4460,0,1,1350.5,742.6)" font-size="28.6" font-weight="bold" fill="#ffffff" stroke="#ffffff" stroke-width="0.8">Automation &amp; AI</text>
<text transform="matrix(0.8467,0.4234,0,1,1885.3,985.6)" font-size="29.6" font-weight="bold" fill="#ffffff" stroke="#ffffff" stroke-width="0.9">Mission</text>
<text transform="matrix(0.8844,0.4422,0,1,1828.8,988.8)" font-size="29.6" font-weight="bold" fill="#ffffff" stroke="#ffffff" stroke-width="0.9">critical networks</text>
<text transform="matrix(0.8984,0.4492,0,1,1865,1034)" font-size="29.6" font-weight="bold" fill="#ffffff" stroke="#ffffff" stroke-width="0.9">&amp; partners</text>
</svg>
<div class="ttl" style="left:0.8px;top:68.0px;transform:scaleX(0.8894)">Innovations &amp;</div>
<div class="ttl" style="left:2.6px;top:132.1px;transform:scaleX(0.9216)">demonstration</div>
<div class="bar" style="left:3.3px;top:235px;width:11.4px;height:259px;background:linear-gradient(180deg,#2fc9d3,#1e6c8f)"></div>
<div class="h" style="left:45px;top:237.9px;transform:scaleX(1.0009)">Automation &amp; AI</div>
<i class="b" style="left:44.9px;top:288.8px"></i>
<div class="t" style="left:69.4px;top:281.4px;transform:scaleX(0.9419)">Intents-driven MV networks life cycle management</div>
<i class="b" style="left:44.9px;top:319.8px"></i>
<div class="t" style="left:69.4px;top:312.4px;transform:scaleX(0.9515)">Journey towards Autonomous Operations</div>
<i class="b" style="left:44.9px;top:350.8px"></i>
<div class="t" style="left:69.4px;top:343.4px;transform:scaleX(0.9444)">IP Network troubleshooting with Agentic AI</div>
<i class="b" style="left:44.9px;top:381.8px"></i>
<div class="t" style="left:69.4px;top:374.4px;transform:scaleX(0.9452)">Reveal your photonic network topology with optical</div>
<div class="t" style="left:69.4px;top:405.4px;transform:scaleX(0.9727)">tomography</div>
<i class="b" style="left:44.9px;top:443.8px"></i>
<div class="t" style="left:69.4px;top:436.4px;transform:scaleX(0.9487)">AI-powered optical network operations</div>
<i class="b" style="left:44.9px;top:474.8px"></i>
<div class="t" style="left:69.4px;top:467.4px;transform:scaleX(0.9351)">Agentic AI for Broadband Access troubleshooting</div>
<div class="bar" style="left:3.3px;top:530px;width:11.4px;height:254px;background:linear-gradient(180deg,#6a34ea,#4a22c4)"></div>
<div class="h" style="left:45px;top:531.9px;transform:scaleX(1.0060)">Broadband for the future now</div>
<i class="b" style="left:44.9px;top:581.8px"></i>
<div class="t" style="left:69.4px;top:574.4px;transform:scaleX(0.9452)">AI-powered fiber insights with Altiplano</div>
<i class="b" style="left:44.9px;top:612.8px"></i>
<div class="t" style="left:69.4px;top:605.4px;transform:scaleX(0.9171)">Corteca: Wi-Fi 7 powered by Agentic AI</div>
<i class="b" style="left:44.9px;top:643.8px"></i>
<div class="t" style="left:69.4px;top:636.4px;transform:scaleX(0.8684)">10G 25G 50G 100G</div>
<i class="b" style="left:44.9px;top:674.8px"></i>
<div class="t" style="left:69.4px;top:667.4px;transform:scaleX(0.9140)">L4S - Near-zero latency user experience</div>
<i class="b" style="left:44.9px;top:705.8px"></i>
<div class="t" style="left:69.4px;top:698.4px;transform:scaleX(0.9504)">Pay-as-you-go fiber broadband for low-income</div>
<div class="t" style="left:69.4px;top:729.4px;transform:scaleX(0.9458)">markets</div>
<i class="b" style="left:44.9px;top:767.8px"></i>
<div class="t" style="left:69.4px;top:760.4px;transform:scaleX(0.9157)">AI-enabled Broadband Easy</div>
<div class="bar" style="left:3.3px;top:826px;width:11.4px;height:334px;background:linear-gradient(180deg,#f08a3c,#e23e3c)"></div>
<div class="h" style="left:45px;top:824.9px;transform:scaleX(0.9754)">Capacity</div>
<i class="b" style="left:44.9px;top:875.8px"></i>
<div class="t" style="left:69.4px;top:868.4px;transform:scaleX(0.9159)">Cross domain (IP/Optics) network assurance and</div>
<div class="t" style="left:69.4px;top:899.4px;transform:scaleX(0.9677)">optimization</div>
<i class="b" style="left:44.9px;top:937.8px"></i>
<div class="t" style="left:69.4px;top:930.4px;transform:scaleX(0.9349)">Redefining DCI thru 800GE connectivity &amp;</div>
<div class="t" style="left:69.4px;top:961.4px;transform:scaleX(0.9415)">Hollow-Core fiber</div>
<i class="b" style="left:44.9px;top:999.8px"></i>
<div class="t" style="left:69.4px;top:992.4px;transform:scaleX(0.9797)">State-of-the-art solutions for integrated</div>
<div class="t" style="left:69.4px;top:1023.4px;transform:scaleX(0.9504)">subsea-terrestrial networks</div>
<i class="b" style="left:44.9px;top:1061.8px"></i>
<div class="t" style="left:69.4px;top:1054.4px;transform:scaleX(0.9339)">Next-Generation Carrier-Grade Optical Networking:</div>
<div class="t" style="left:69.4px;top:1085.4px;transform:scaleX(0.8776)">Nokia 1830 PSS-HC</div>
<i class="b" style="left:44.9px;top:1123.8px"></i>
<div class="t" style="left:69.4px;top:1116.4px;transform:scaleX(0.9581)">IP portfolio evolution</div>
<i class="b" style="left:44.9px;top:1154.8px"></i>
<div class="t" style="left:69.4px;top:1147.4px;transform:scaleX(0.9200)">What's next in IP for AI?</div>
<div class="bar" style="left:3.3px;top:1206px;width:11.4px;height:232px;background:linear-gradient(180deg,#e431cd,#a41f7e)"></div>
<div class="h" style="left:45px;top:1212.6px;transform:scaleX(0.9962)">Mission critical networks &amp; partners</div>
<i class="b" style="left:44.9px;top:1262.8px"></i>
<div class="t" style="left:69.4px;top:1255.4px;transform:scaleX(0.9210)">Enlighten your LAN with Aurelis</div>
<i class="b" style="left:44.9px;top:1293.8px"></i>
<div class="t" style="left:69.4px;top:1286.4px;transform:scaleX(0.9251)">AI solutions powered by AIdeology, Lenovo and Nokia</div>
<i class="b" style="left:44.9px;top:1324.8px"></i>
<div class="t" style="left:69.4px;top:1317.4px;transform:scaleX(0.9307)">Nokia and Ruckus: Better together</div>
<i class="b" style="left:44.9px;top:1355.8px"></i>
<div class="t" style="left:69.4px;top:1348.4px;transform:scaleX(0.9461)">Digital substation</div>
<i class="b" style="left:44.9px;top:1386.8px"></i>
<div class="t" style="left:69.4px;top:1379.4px;transform:scaleX(0.9404)">Advancing connectivity for digital rail</div>
<i class="b" style="left:44.9px;top:1417.8px"></i>
<div class="t" style="left:69.4px;top:1410.4px;transform:scaleX(0.9345)">Connected cities</div>
<div class="bar" style="left:626.4px;top:924.5px;width:11.4px;height:222.5px;background:linear-gradient(180deg,#1a47f2,#1a3fe6)"></div>
<div class="h" style="left:667px;top:924.9px;transform:scaleX(0.9646)">Cloud &amp; AI</div>
<i class="b" style="left:667.5px;top:974.8px"></i>
<div class="t" style="left:691.7px;top:967.4px;transform:scaleX(0.9347)">AIOps for datacenter networks with EDA</div>
<i class="b" style="left:667.5px;top:1005.8px"></i>
<div class="t" style="left:691.7px;top:998.4px;transform:scaleX(0.9065)">Building AI factories with SR Linux and EDA</div>
<i class="b" style="left:667.5px;top:1036.8px"></i>
<div class="t" style="left:691.7px;top:1029.4px;transform:scaleX(0.9240)">Simplify data center operations with EDA SaaS</div>
<i class="b" style="left:667.5px;top:1067.8px"></i>
<div class="t" style="left:691.7px;top:1060.4px;transform:scaleX(0.9212)">EDA NetOps in action</div>
<i class="b" style="left:667.5px;top:1098.8px"></i>
<div class="t" style="left:691.7px;top:1091.4px;transform:scaleX(0.8944)">NextGen DCI</div>
<i class="b" style="left:667.5px;top:1129.8px"></i>
<div class="t" style="left:691.7px;top:1122.4px;transform:scaleX(0.9187)">Subsystem pluggable Digital Coherent Optics (DCOs)</div>
<div class="bar" style="left:626.4px;top:1177px;width:11.4px;height:261px;background:linear-gradient(180deg,#3aa3b2,#2968e2)"></div>
<div class="h" style="left:667px;top:1181.9px;transform:scaleX(0.9811)">Security</div>
<i class="b" style="left:667.5px;top:1232.2px"></i>
<div class="t" style="left:691.7px;top:1224.8px;transform:scaleX(0.9486)">Securing optical networks against quantum threats</div>
<i class="b" style="left:667.5px;top:1262.8px"></i>
<div class="t" style="left:691.7px;top:1255.4px;transform:scaleX(0.9452)">Multi-layer embedded IP network security</div>
<i class="b" style="left:667.5px;top:1294.3px"></i>
<div class="t" style="left:691.7px;top:1286.9px;transform:scaleX(0.9320)">Deepfield Cloud Intelligence: Transform insights into</div>
<div class="t" style="left:691.7px;top:1318.0px;transform:scaleX(0.9723)">impact</div>
<i class="b" style="left:667.5px;top:1356.8px"></i>
<div class="t" style="left:691.7px;top:1349.4px;transform:scaleX(0.9327)">Deepfield Defender : Advanced DDOS network security</div>
<i class="b" style="left:667.5px;top:1387.8px"></i>
<div class="t" style="left:691.7px;top:1380.4px;transform:scaleX(0.9367)">Mastering the lifecycle of Transformation Services</div>
<i class="b" style="left:667.5px;top:1418.8px"></i>
<div class="t" style="left:691.7px;top:1411.4px;transform:scaleX(0.9347)">Wavelength on Demand with Capacity Management</div>
<div class="bar" style="left:1264.2px;top:1173.3px;width:11.2px;height:264.4000000000001px;background:linear-gradient(180deg,#1c9a42,#3df274)"></div>
<div class="h" style="left:1303.5px;top:1181.7px;transform:scaleX(1.0045)">Star Demos</div>
<div class="n" style="left:1303.5px;top:1224.4px">1</div>
<div class="t" style="left:1332.4px;top:1224.4px;transform:scaleX(0.8886)">Search and Rescue</div>
<div class="n" style="left:1303.5px;top:1255.9px">2</div>
<div class="t" style="left:1332.4px;top:1255.9px;transform:scaleX(0.9484)">Data center networks for the AI era</div>
<div class="n" style="left:1303.5px;top:1287.1px">3</div>
<div class="t" style="left:1332.4px;top:1287.1px;transform:scaleX(0.9521)">IP/Optical traffic-aware optimization for greener networks</div>
<div class="n" style="left:1303.5px;top:1317.9px">4</div>
<div class="t" style="left:1332.4px;top:1317.9px;transform:scaleX(0.9131)">AI Journey for Oil and Gas</div>
<div class="n" style="left:1303.5px;top:1349.1px">5</div>
<div class="t" style="left:1332.4px;top:1349.1px;transform:scaleX(0.9341)">Driving Autonomous Networks with Agentic AI in AI Supercycle</div>
<div class="n" style="left:1303.5px;top:1380.1px">6</div>
<div class="t" style="left:1332.4px;top:1380.1px;transform:scaleX(0.9220)">End-to-End Slicing</div>
<div class="n" style="left:1303.5px;top:1410.8px">7</div>
<div class="t" style="left:1332.4px;top:1410.8px;transform:scaleX(0.8790)">SReXperience</div>
<div class="x" style="left:1844.6px;top:74.3px;font-size:86.5px;font-weight:normal;color:#fff;transform:scaleX(0.9570);-webkit-text-stroke:0.5px #fff">Networks</div>
<div class="x" style="left:2242.5px;top:101.3px;font-size:30.7px;font-weight:bold;color:#fff;transform:scaleX(0.9307);">The</div>
<div class="x" style="left:2300.8px;top:74.3px;font-size:86.5px;font-weight:normal;color:#fff;transform:scaleX(0.9220);-webkit-text-stroke:0.5px #fff">Next</div>
<i class="b" style="left:2467.0px;top:140.6px;width:7.2px;height:7.2px;background:#fff"></i>
<i class="b" style="left:2476.5px;top:140.6px;width:7.2px;height:7.2px;background:#fff"></i>
<i class="b" style="left:2486.0px;top:140.6px;width:7.2px;height:7.2px;background:#fff"></i>
<svg style="position:absolute;left:2195px;top:78px" width="66" height="78" viewBox="2195 78 66 78" fill="none" stroke="#eef2fb" stroke-width="1.5" stroke-linejoin="miter"><path d="M2226.9 85.2H2236.5V149H2227.3V130.5H2205.7V120.5Z"/><path d="M2228.1 101.3V119.7H2215.3Z"/><circle cx="2214.5" cy="92.8" r="2.1"/><path d="M2216.7 92.8H2222.3"/><circle cx="2203.5" cy="110.5" r="2.1"/><path d="M2205.7 110.5H2211.6"/><circle cx="2245.7" cy="92.8" r="2.1"/><path d="M2236.5 92.8H2243.5"/><circle cx="2219.3" cy="134.9" r="2.1"/><path d="M2221.5 134.9H2227.3"/><circle cx="2251.6" cy="137.7" r="2.1"/><path d="M2236.5 137.7H2249.4"/></svg>
</body></html>
